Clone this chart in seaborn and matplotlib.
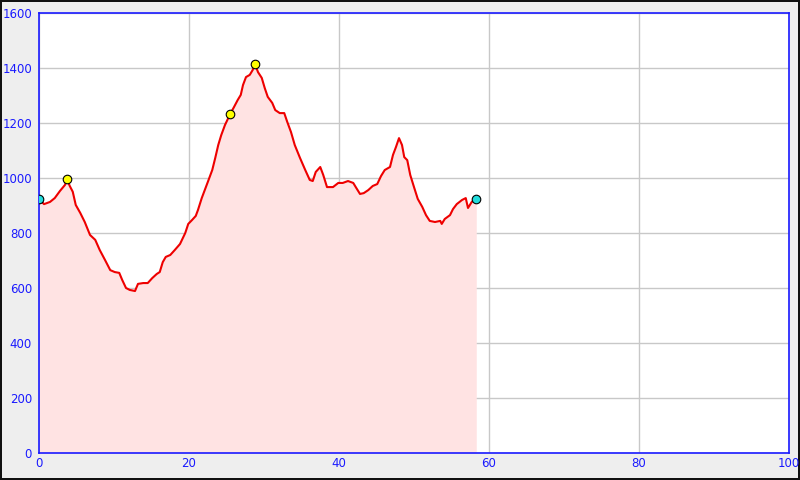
import matplotlib
matplotlib.use("Agg")
import matplotlib.pyplot as plt
import seaborn as sns
import pandas as pd

distance_km = [0.0, 0.67, 1.47, 2.1, 2.8, 3.47, 3.73, 4.1, 4.5, 4.9, 5.5, 6.1, 6.8, 7.5, 8.1, 8.8,
               9.5, 10.1, 10.7, 11.1, 11.6, 12.1, 12.8, 13.2, 13.9, 14.5, 15.1, 15.7, 16.1, 16.5,
               16.9, 17.5, 18.1, 18.8, 19.5, 19.9, 20.4, 20.9, 21.2, 21.7, 22.1, 22.5, 23.1, 23.5,
               23.9, 24.3, 24.8, 25.5, 26.0, 26.5, 26.9, 27.2, 27.6, 28.1, 28.5, 28.8, 29.2, 29.7,
               30.1, 30.5, 31.1, 31.5, 32.1, 32.7, 33.1, 33.6, 34.1, 34.8, 35.5, 36.1, 36.5, 36.9,
               37.5, 37.9, 38.4, 39.2, 39.9, 40.5, 41.2, 41.9, 42.3, 42.8, 43.3, 43.9, 44.5, 45.1,
               45.6, 46.1, 46.8, 47.2, 47.6, 48.0, 48.4, 48.7, 49.1, 49.5, 50.0, 50.5, 51.1, 51.6,
               52.1, 52.8, 53.5, 53.7, 54.1, 54.8, 55.2, 55.7, 56.4, 56.9, 57.2, 57.7, 58.3]
elevation_m = [924, 905, 913, 927, 953, 975, 996, 971, 950, 902, 873, 840, 793, 775, 738, 702,
               665, 658, 655, 629, 600, 593, 589, 615, 618, 618, 636, 651, 658, 694,
               713, 720, 738, 760, 800, 833, 847, 862, 884, 927, 956, 985, 1029, 1073,
               1120, 1156, 1193, 1233, 1258, 1284, 1302, 1338, 1367, 1375, 1393, 1415, 1385, 1364,
               1327, 1295, 1273, 1247, 1236, 1236, 1204, 1167, 1120, 1073, 1029, 993, 989, 1022,
               1040, 1011, 967, 967, 982, 982, 989, 982, 964, 942, 945, 956, 971, 978,
               1007, 1029, 1040, 1084, 1113, 1145, 1120, 1076, 1065, 1011, 967, 924, 895, 865,
               844, 840, 844, 833, 851, 865, 887, 905, 920, 927, 891, 913, 924]

yellow_x = [3.73, 25.5, 28.8]
yellow_y = [996, 1233, 1415]
cyan_x = [0.0, 58.3]
cyan_y = [924, 924]

x_ticks = [0, 20, 40, 60, 80, 100]
y_ticks = [0, 200, 400, 600, 800, 1000, 1200, 1400, 1600]

df = pd.DataFrame({"km": distance_km, "elev": elevation_m})
dfy = pd.DataFrame({"km": yellow_x, "elev": yellow_y})
dfc = pd.DataFrame({"km": cyan_x, "elev": cyan_y})

sns.set_style("white")
plt.rcParams['font.family'] = ['DejaVu Sans']

blue = "#1a1aff"
fig = plt.figure(figsize=(8, 4.8), dpi=100, facecolor="#eeeeee", edgecolor="#111111", linewidth=1.5)
ax = fig.add_axes([39 / 800, 27 / 480, 750 / 800, 440 / 480])
ax.set_facecolor("white")

ax.fill_between(df["km"], df["elev"], 0, color="#ffe3e3", linewidth=0, zorder=1)
sns.lineplot(data=df, x="km", y="elev", ax=ax, color="#ee0000", linewidth=1.5,
             zorder=3, estimator=None, sort=False)
sns.scatterplot(data=dfy, x="km", y="elev", ax=ax, color="#ffff00", edgecolor="black",
                linewidth=0.8, s=38, zorder=4)
sns.scatterplot(data=dfc, x="km", y="elev", ax=ax, color="#22dddd", edgecolor="black",
                linewidth=0.8, s=38, zorder=4)

ax.set_xlim(0, 100)
ax.set_ylim(0, 1600)
ax.set_xticks(x_ticks)
ax.set_yticks(y_ticks)
ax.grid(True, color="#c8c8c8", linewidth=1)
ax.set_axisbelow(True)
for sp in ax.spines.values():
    sp.set_color(blue)
    sp.set_linewidth(1.2)
    sp.set_visible(True)
ax.tick_params(axis="both", direction="in", length=4.5, width=1.2, color=blue,
               labelcolor=blue, labelsize=8.5)
ax.tick_params(axis="y", pad=5)
ax.tick_params(axis="x", pad=3)
ax.set_xlabel("")
ax.set_ylabel("")

fig.savefig("out.png", dpi=100, facecolor=fig.get_facecolor(), edgecolor=fig.get_edgecolor())
